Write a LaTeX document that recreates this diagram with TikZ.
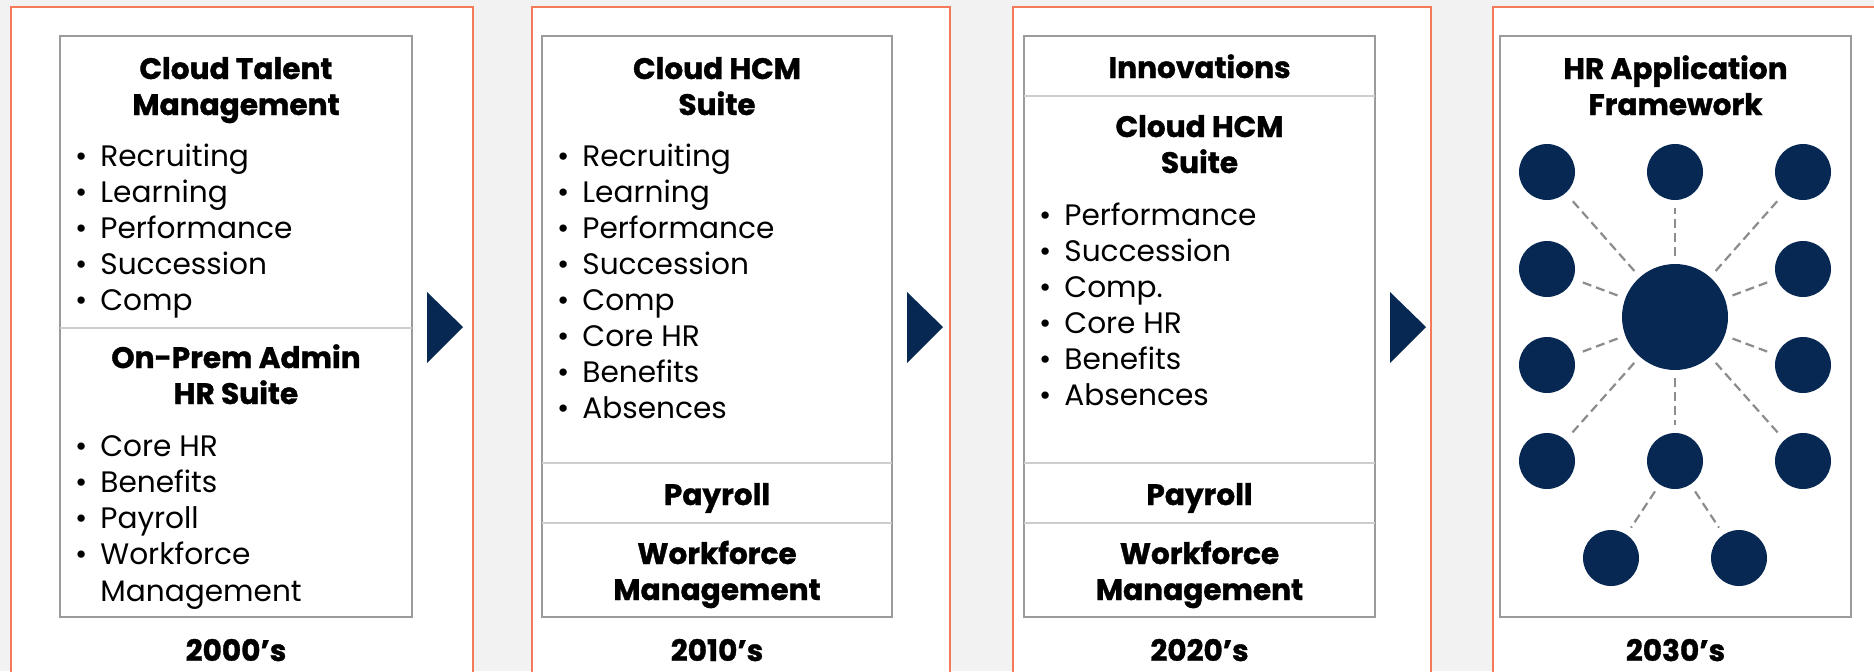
\documentclass[tikz,border=0pt]{standalone}
\usepackage{fontspec}
\setmainfont{Poppins}[BoldFeatures={FakeBold=1.2}]
\usetikzlibrary{positioning}

\definecolor{navy}{RGB}{8,40,84}
\definecolor{coral}{RGB}{244,122,90}
\definecolor{boxgray}{RGB}{155,155,155}
\definecolor{rulegray}{RGB}{205,205,205}
\definecolor{bggray}{RGB}{242,242,242}
\definecolor{linkgray}{RGB}{140,140,140}

\begin{document}
\begin{tikzpicture}[
		x=0.5pt, y=-0.5pt,
		frame/.style = {draw=coral, line width=1pt, fill=white},
		panel/.style = {draw=boxgray, line width=1.4pt},
		rule/.style = {draw=rulegray, line width=0.7pt},
		head/.style = {font=\bfseries\fontsize{14.8}{18}\selectfont, align=center, anchor=base, inner sep=0pt},
		item/.style = {font=\fontsize{14.8}{18}\selectfont, anchor=base west, inner sep=0pt},
		dot/.style = {circle, fill=navy, minimum size=28pt, inner sep=0pt},
		hub/.style = {circle, fill=navy, minimum size=53pt, inner sep=0pt},
		link/.style = {draw=linkgray, line width=1.1pt, dash pattern=on 4.5pt off 2.5pt, shorten <=4pt, shorten >=4pt},
		]
		\fill[bggray] (0,0) rectangle (1874,671);
		\useasboundingbox (0,0) rectangle (1874,671);
		
		% frames and boxes
		\draw[frame] (11,7) rectangle (473,690);
		\draw[frame] (532,7) rectangle (950,690);
		\draw[frame] (1013,7) rectangle (1431,690);
		\draw[frame] (1493,7) rectangle (1890,690);
		\draw[panel] (60,36) rectangle (412,617);
		\draw[panel] (542,36) rectangle (892,617);
		\draw[panel] (1024,36) rectangle (1375,617);
		\draw[panel] (1500,36) rectangle (1851,617);
		\foreach \x in {427,907,1390}
		\fill[navy] (\x,292) -- (\x+36,327) -- (\x,363) -- cycle;
		
		% 2000's (two-line heads sit on their last baseline)
		\node[head] (talent) at (236,115) {Cloud Talent\\Management};
		\foreach \t [count=\i from 0] in {Recruiting,Learning,Performance,Succession,Comp}
		\node[item] (talent-\i) at (100,166+36*\i) {\llap{\textbullet\hspace{6.5pt}}\t};
		\draw[rule] (60,328) -- (412,328);
		\node[head] (onprem) at (236,404) {On-Prem Admin\\HR Suite};
		\foreach \t [count=\i from 0] in {Core HR,Benefits,Payroll,Workforce}
		\node[item] (onprem-\i) at (100,456+36.3*\i) {\llap{\textbullet\hspace{6.5pt}}\t};
		\node[item] (onprem-wfm) at (100,601) {Management};
		\node[head] (era1) at (236,661) {2000’s};
		
		% 2010's
		\node[head] (hcm) at (717,115) {Cloud HCM\\Suite};
		\foreach \t [count=\i from 0] in {Recruiting,Learning,Performance,Succession,Comp,Core HR,Benefits,Absences}
		\node[item] (hcm-\i) at (582,166+36*\i) {\llap{\textbullet\hspace{6.5pt}}\t};
		\draw[rule] (542,463) -- (892,463);
		\draw[rule] (542,523) -- (892,523);
		\node[head] (payroll1) at (717,505) {Payroll};
		\node[head] (wfm1) at (717,600) {Workforce\\Management};
		\node[head] (era2) at (717,661) {2010’s};
		
		% 2020's
		\node[head] (innov) at (1199.5,78) {Innovations};
		\draw[rule] (1024,96) -- (1375,96);
		\node[head] (hcm2) at (1199.5,173) {Cloud HCM\\Suite};
		\foreach \t [count=\i from 0] in {Performance,Succession,Comp.,Core HR,Benefits,Absences}
		\node[item] (hcm2-\i) at (1064,225+36*\i) {\llap{\textbullet\hspace{6.5pt}}\t};
		\draw[rule] (1024,463) -- (1375,463);
		\draw[rule] (1024,523) -- (1375,523);
		\node[head] (payroll2) at (1199.5,505) {Payroll};
		\node[head] (wfm2) at (1199.5,600) {Workforce\\Management};
		\node[head] (era3) at (1199.5,661) {2020’s};
		
		% 2030's
		\node[head] (framework) at (1675.5,115) {HR Application\\Framework};
		\node[hub] (hub) at (1675,317) {};
		\foreach \n/\x/\y in {tl/1547/172, tm/1675/172, tr/1803/172, ml/1547/269, mr/1803/269,
			ll/1547/365, lr/1803/365, bl/1547/461, bm/1675/461, br/1803/461, fl/1611/558, fr/1739/558}
		\node[dot] (\n) at (\x,\y) {};
		\foreach \n in {tl,tm,tr,ml,mr,ll,lr,bl,bm,br}
		\draw[link] (hub) -- (\n);
		\draw[link] (bm) -- (fl);
		\draw[link] (bm) -- (fr);
		\node[head] (era4) at (1675.5,661) {2030’s};
	\end{tikzpicture}
\end{document}
